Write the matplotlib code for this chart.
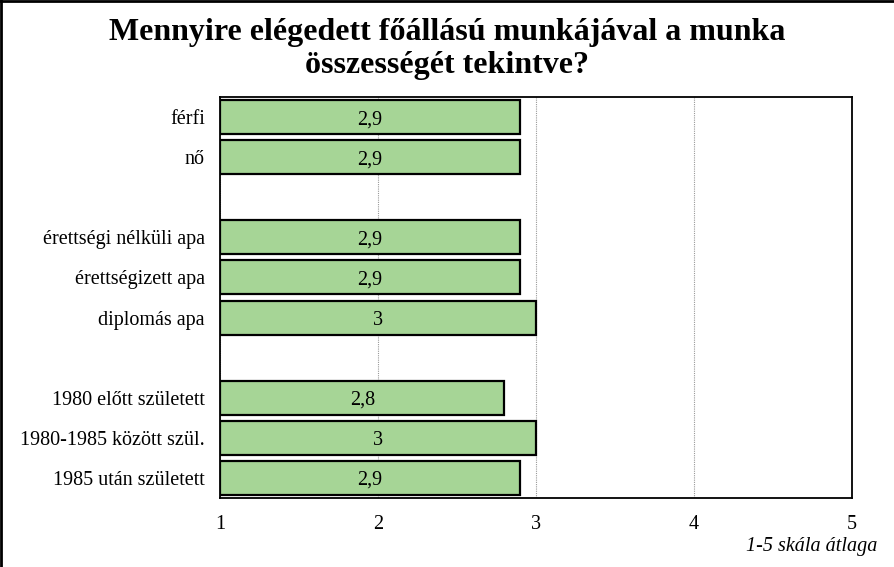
import matplotlib
matplotlib.use('Agg')
import matplotlib.pyplot as plt
import numpy as np

# categories top to bottom, None = empty gap row
categories = ['férfi', 'nő', None,
              'érettségi nélküli apa', 'érettségizett apa', 'diplomás apa', None,
              '1980 előtt született', '1980-1985 között szül.', '1985 után született']
values = [2.9, 2.9, None, 2.9, 2.9, 3.0, None, 2.8, 3.0, 2.9]
value_labels = ['2,9', '2,9', None, '2,9', '2,9', '3', None, '2,8', '3', '2,9']
xticks = [1, 2, 3, 4, 5]

title = 'Mennyire elégedett főállású munkájával a munka\nösszességét tekintve?'
xlabel_note = '1-5 skála átlaga'

plt.rcParams['font.family'] = ['Liberation Serif', 'DejaVu Serif']

fig = plt.figure(figsize=(8.95, 5.67), dpi=100)
ax = fig.add_axes([220/895, 1-498/567, (852-220)/895, (498-97)/567])

base = 1.0
ypos = np.arange(len(categories))
for y, v, lab in zip(ypos, values, value_labels):
    if v is None:
        continue
    ax.barh(y, v - base, left=base, height=0.85, color='#a6d596',
            edgecolor='black', linewidth=1.6, zorder=3)
    ax.text(base + (v - base)/2, y, lab, ha='center', va='center_baseline',
            fontsize=14.5, zorder=4)

ax.set_ylim(len(categories) - 0.5, -0.5)
ax.set_xlim(1, 5)
ax.set_yticks([y for y, c in zip(ypos, categories) if c is not None])
ax.set_yticklabels([c for c in categories if c is not None], fontsize=14.5)
ax.set_xticks(xticks)
ax.set_xticklabels([str(t) for t in xticks], fontsize=14.5)
ax.tick_params(axis='both', length=0)
ax.tick_params(axis='y', pad=11)
ax.tick_params(axis='x', pad=12)
ax.xaxis.grid(True, linestyle=(0, (1, 1)), color='#999999', linewidth=0.8, zorder=0)
for s in ax.spines.values():
    s.set_linewidth(1.3)
    s.set_color('black')

fig.text(0.5, 1-49/567, title, ha='center', va='center', fontsize=23,
         fontweight='bold', linespacing=1.2)
fig.text(877/895, 1-547/567, xlabel_note, ha='right', va='center',
         fontsize=14.5, style='italic')

# figure border on left and top
fig.add_artist(plt.Line2D([0.001, 0.001], [0, 1], color='black', linewidth=2,
                          transform=fig.transFigure))
fig.add_artist(plt.Line2D([0, 1], [0.998, 0.998], color='black', linewidth=2,
                          transform=fig.transFigure))

fig.savefig('out.png', dpi=100)
